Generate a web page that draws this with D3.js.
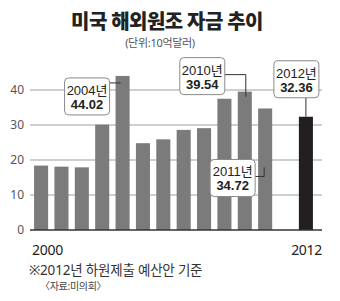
<!DOCTYPE html>
<html>
<head>
<meta charset="utf-8">
<script src="https://cdn.jsdelivr.net/npm/d3@7"></script>
<style>
  body { margin: 0; background: #fff; }
  svg { display: block; font-family: "Noto Sans", "Noto Sans CJK KR", sans-serif; }
  .narrow { font-family: "Liberation Sans Narrow", "Liberation Sans", "Noto Sans CJK KR", sans-serif; }
</style>
</head>
<body>
<svg id="chart" viewBox="0 0 340 301" width="340" height="301"></svg>
<script>
const years = [2000, 2001, 2002, 2003, 2004, 2005, 2006, 2007, 2008, 2009, 2010, 2011, 2012];
const values = [18.4, 18.1, 17.9, 30.1, 44.02, 24.8, 25.9, 28.6, 29.1, 37.5, 39.54, 34.72, 32.36];
const yTicks = [0, 10, 20, 30, 40];
const xLabels = ["2000", "2012"];
const callouts = [
  { year: 2004, line1: "2004년", line2: "44.02" },
  { year: 2010, line1: "2010년", line2: "39.54" },
  { year: 2011, line1: "2011년", line2: "34.72" },
  { year: 2012, line1: "2012년", line2: "32.36" },
];

const data = years.map((y, i) => ({ year: y, value: values[i] }));

const svg = d3.select("#chart");

// plot area
const plot = { left: 30, right: 322, top: 90, bottom: 230 };

// one empty slot before the last bar
const slots = [...years.slice(0, 12).map(String), "gap", "2012"];
const x = d3.scaleBand()
  .domain(slots)
  .range([30, 317])
  .paddingInner(0.31)
  .paddingOuter(0.2);

const y = d3.scaleLinear().domain([0, 40]).range([plot.bottom, plot.top]);

// title
svg.append("text")
  .attr("x", 167).attr("y", 29)
  .attr("text-anchor", "middle")
  .style("font-size", "20px").style("font-weight", 900)
  .style("letter-spacing", "-0.6px")
  .attr("fill", "#222")
  .text("미국 해외원조 자금 추이");

svg.append("text")
  .attr("x", 160).attr("y", 47)
  .attr("text-anchor", "middle")
  .style("font-size", "11px")
  .style("letter-spacing", "-0.3px")
  .attr("fill", "#555")
  .text("(단위:10억달러)");

// grid
svg.append("g")
  .selectAll("line")
  .data(yTicks.filter((d) => d > 0))
  .enter()
  .append("line")
  .attr("x1", plot.left).attr("x2", plot.right)
  .attr("y1", (d) => y(d)).attr("y2", (d) => y(d))
  .attr("stroke", "#cfcfcf")
  .attr("stroke-width", 2);

svg.append("g")
  .selectAll("text")
  .data(yTicks)
  .enter()
  .append("text")
  .attr("x", 24)
  .attr("y", (d) => y(d))
  .attr("dy", "0.35em")
  .attr("text-anchor", "end")
  .style("font-size", "12px")
  .attr("fill", "#555")
  .text((d) => d);

// bars
svg.append("g")
  .selectAll("rect")
  .data(data)
  .enter()
  .append("rect")
  .attr("x", (d) => x(String(d.year)))
  .attr("y", (d) => y(d.value))
  .attr("width", x.bandwidth())
  .attr("height", (d) => y(0) - y(d.value))
  .attr("fill", (d) => (d.year === 2012 ? "#231f20" : "#7b7b7b"));

// baseline
svg.append("line")
  .attr("x1", plot.left).attr("x2", plot.right)
  .attr("y1", y(0)).attr("y2", y(0))
  .attr("stroke", "#333")
  .attr("stroke-width", 1.5);

// x labels
svg.append("text")
  .attr("x", x("2000") - 2).attr("y", 255)
  .style("font-size", "14px")
  .style("letter-spacing", "-0.3px")
  .attr("fill", "#222")
  .text(xLabels[0]);

svg.append("text")
  .attr("x", plot.right).attr("y", 255)
  .attr("text-anchor", "end")
  .style("font-size", "14px")
  .style("letter-spacing", "-0.3px")
  .attr("fill", "#222")
  .text(xLabels[1]);

// callouts
const bw = x.bandwidth();
const boxW = 45, boxH = 37;
const cx = (yr) => x(String(yr)) + bw / 2;
const val = (yr) => data.find((d) => d.year === yr).value;

// box placement + leader path per callout
const layout = {
  2004: (c, t) => ({ bx: c - 58, by: t + 2, path: [[c - 13, t + 7], [c - 2, t + 7]] }),
  2010: (c, t) => ({ bx: c - 65, by: t - 34, path: [[c - 20, t - 17], [c + 1, t - 17], [c + 1, t + 5]] }),
  2011: (c, t) => ({ bx: c - 55, by: t + 51, path: [[c - 10, t + 68], [c - 1, t + 68], [c - 1, t + 59]] }),
  2012: (c, t) => ({ bx: c - 32, by: t - 56, path: [[c, t - 19], [c, t]] }),
};

svg.append("g")
  .selectAll("g")
  .data(callouts)
  .enter()
  .append("g")
  .each(function (d) {
    const g = d3.select(this);
    const L = layout[d.year](cx(d.year), y(val(d.year)));
    g.append("path")
      .attr("d", d3.line()(L.path))
      .attr("fill", "none")
      .attr("stroke", "#333")
      .attr("stroke-width", 1);
    g.append("rect")
      .attr("x", L.bx).attr("y", L.by)
      .attr("width", boxW).attr("height", boxH)
      .attr("rx", 4).attr("ry", 4)
      .attr("fill", "#fff")
      .attr("stroke", "#8a8a8a")
      .attr("stroke-width", 1);
    g.append("text")
      .attr("class", "narrow")
      .attr("x", L.bx + boxW / 2).attr("y", L.by + 17)
      .attr("text-anchor", "middle")
      .style("font-size", "13px")
      .attr("fill", "#222")
      .text(d.line1);
    g.append("text")
      .attr("class", "narrow")
      .attr("x", L.bx + boxW / 2).attr("y", L.by + 31)
      .attr("text-anchor", "middle")
      .style("font-size", "13px")
      .style("font-weight", 700)
      .attr("fill", "#222")
      .text(d.line2);
  });

// notes
svg.append("text")
  .attr("x", 29).attr("y", 275)
  .style("font-size", "13.5px")
  .style("letter-spacing", "-0.2px")
  .attr("fill", "#333")
  .text("※2012년 하원제출 예산안 기준");

svg.append("text")
  .attr("x", 40).attr("y", 290)
  .style("font-size", "10px")
  .style("letter-spacing", "-0.3px")
  .attr("fill", "#444")
  .text("〈자료:미의회〉");
</script>
</body>
</html>
